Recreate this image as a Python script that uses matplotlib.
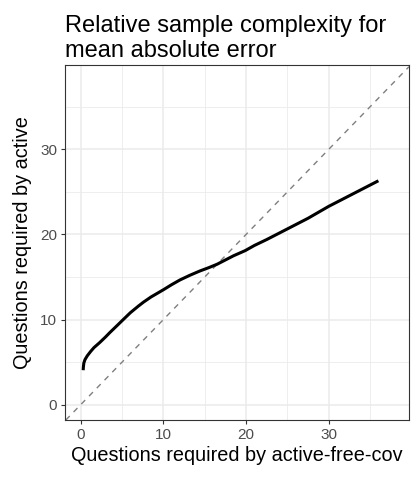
import matplotlib
matplotlib.use("Agg")
import matplotlib.pyplot as plt
from matplotlib.ticker import MultipleLocator

plt.rcParams['font.family'] = ['Liberation Sans', 'DejaVu Sans']

title = "Relative sample complexity for\nmean absolute error"
xlabel = "Questions required by active-free-cov"
ylabel = "Questions required by active"

x_free_cov = [0.30, 0.32, 0.38, 0.52, 0.8, 1.2, 1.6, 2.3, 3.0, 3.5, 4.3, 5.2, 6.0, 7.0, 7.6,
              8.5, 10.0, 11.0, 12.0, 13.2, 14.4, 15.5, 16.5, 17.3, 18.5, 19.9, 21.0, 22.5,
              24.9, 27.5, 30.0, 33.0, 35.0, 36.0]
y_active = [4.05, 4.40, 4.90, 5.30, 5.75, 6.25, 6.70, 7.30, 7.95, 8.45, 9.20, 10.05, 10.8,
            11.6, 12.05, 12.65, 13.5, 14.1, 14.65, 15.2, 15.7, 16.1, 16.5, 16.9, 17.5, 18.1,
            18.7, 19.4, 20.6, 21.9, 23.3, 24.8, 25.8, 26.3]

major_ticks = [0, 10, 20, 30]

fig = plt.figure(figsize=(4.2, 4.8), dpi=100)
ax = fig.add_axes([65/420, 1-420/480, (409-65)/420, (420-65)/480])

ax.set_xlim(-1.9, 39.7)
ax.set_ylim(-1.8, 39.9)

ax.xaxis.set_major_locator(MultipleLocator(10))
ax.yaxis.set_major_locator(MultipleLocator(10))
ax.xaxis.set_minor_locator(MultipleLocator(5))
ax.yaxis.set_minor_locator(MultipleLocator(5))
ax.grid(which='major', color='#EBEBEB', linewidth=1.1)
ax.grid(which='minor', color='#EBEBEB', linewidth=0.6)
ax.set_axisbelow(True)
ax.tick_params(which='minor', length=0)
ax.tick_params(which='major', length=3.0, width=0.8, color='#333333',
               labelsize=11, labelcolor='#4D4D4D', pad=2.5)
for s in ax.spines.values():
    s.set_color('#333333')
    s.set_linewidth(0.8)

ax.axline((0, 0), slope=1, color='#7F7F7F', linestyle=(0, (4, 4)), linewidth=1.0, zorder=2)
ax.plot(x_free_cov, y_active, color='black', linewidth=2.2, solid_capstyle='butt',
        solid_joinstyle='round', zorder=3)

ax.set_xticks(major_ticks)
ax.set_yticks(major_ticks)
ax.set_xlabel(xlabel, fontsize=14.3, labelpad=3)
ax.set_ylabel(ylabel, fontsize=14.3, labelpad=6)
ax.set_title(title, fontsize=17, loc='left', pad=5.5, linespacing=1.2)

fig.savefig("out.png", dpi=100, facecolor='white')
